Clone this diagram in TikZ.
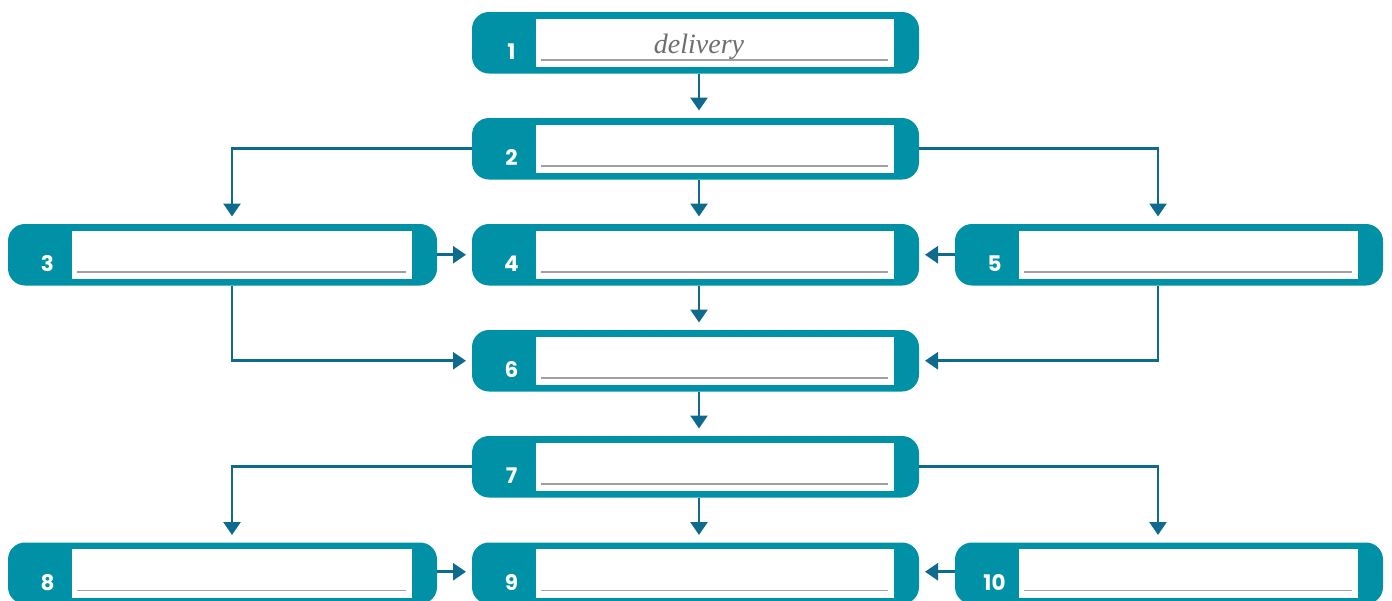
\documentclass[tikz,border=0pt]{standalone}
\usepackage{fontspec}
\setsansfont{Poppins}
\newfontfamily\serifit{Liberation Serif}
\usetikzlibrary{arrows.meta,calc}
\definecolor{teal1}{RGB}{0,145,166}
\definecolor{arrc}{RGB}{14,107,142}
\definecolor{linegray}{RGB}{160,160,160}
\definecolor{txtgray}{RGB}{110,110,110}
\tikzset{
  outerbox/.style={fill=teal1, draw=none, rounded corners=17pt, minimum height=61.5pt, inner sep=0pt, outer sep=0pt},
  arr/.style={draw=arrc, line width=2.7pt, -{Triangle[width=17pt,length=13pt]}, shorten >=7.5pt},
  numtxt/.style={text=white, font=\sffamily\bfseries\fontsize{21.5}{21.5}\selectfont, anchor=base, inner sep=0pt},
  fill-in/.style={draw=linegray, line width=1.4pt},
}
\newcommand{\flowbox}[5]{% name, left x, top y, width, number
  \node[outerbox, minimum width=#4pt, anchor=north west] (#1) at (#2,#3) {};
  \fill[white] ($(#1.north west)+(64,6.5)$) rectangle ($(#1.south east)+(-25,-6.5)$);
  \draw[fill-in] ($(#1.north west)+(69,48)$) -- ($(#1.north east)+(-31,48)$);
  \node[numtxt] (#1n) at ($(#1.north west)+(39.5,47.5)$) {#5};
}
\begin{document}
\begin{tikzpicture}[x=1pt,y=-1pt]
\useasboundingbox (0,0) rectangle (1392,600);
\clip (0,0) rectangle (1392,600);
\flowbox{b1}{472}{12}{447}{1}
\flowbox{b2}{472}{118}{447}{2}
\flowbox{b3}{8}{224}{429}{3}
\flowbox{b4}{472}{224}{447}{4}
\flowbox{b5}{955}{224}{428}{5}
\flowbox{b6}{472}{330}{447}{6}
\flowbox{b7}{472}{436}{447}{7}
\flowbox{b8}{8}{542.5}{429}{8}
\flowbox{b9}{472}{542.5}{447}{9}
\flowbox{b10}{955}{542.5}{428}{10}
\node[anchor=base, inner sep=0pt, text=txtgray, font=\serifit\fontsize{28}{28}\selectfont\itshape] (t1) at (699,53) {delivery};
% connectors
\draw[arr] ([xshift=3.5pt]b1.south) -- ([xshift=3.5pt]b2.north);
\draw[arr] (b2.west) -| ([xshift=9.5pt]b3.north);
\draw[arr] (b2.east) -| ([xshift=-11pt]b5.north);
\draw[arr] ([xshift=3.5pt]b2.south) -- ([xshift=3.5pt]b4.north);
\draw[arr, shorten >=6pt] (b3.east) -- (b4.west);
\draw[arr, shorten >=6pt] (b5.west) -- (b4.east);
\draw[arr, shorten >=6pt] ([xshift=9.5pt]b3.south) |- (b6.west);
\draw[arr, shorten >=6pt] ([xshift=-11pt]b5.south) |- (b6.east);
\draw[arr] ([xshift=3.5pt]b4.south) -- ([xshift=3.5pt]b6.north);
\draw[arr] ([xshift=3.5pt]b6.south) -- ([xshift=3.5pt]b7.north);
\draw[arr] (b7.west) -| ([xshift=9.5pt]b8.north);
\draw[arr] (b7.east) -| ([xshift=-11pt]b10.north);
\draw[arr] ([xshift=3.5pt]b7.south) -- ([xshift=3.5pt]b9.north);
\draw[arr, shorten >=6pt] ([yshift=1.5pt]b8.east) -- ([yshift=1.5pt]b9.west);
\draw[arr, shorten >=6pt] ([yshift=1.5pt]b10.west) -- ([yshift=1.5pt]b9.east);
\end{tikzpicture}
\end{document}
